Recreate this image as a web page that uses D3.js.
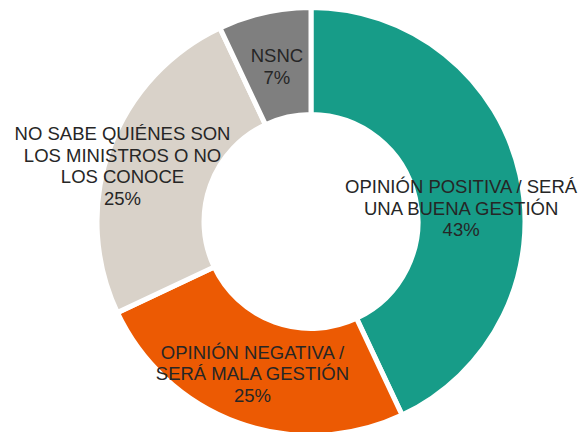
<!DOCTYPE html>
<html>
<head>
<meta charset="utf-8">
<script src="https://cdn.jsdelivr.net/npm/d3@7"></script>
<style>
    html, body { margin: 0; padding: 0; background: #ffffff; }
    svg { display: block; }
</style>
</head>
<body>
<svg id="chart" width="583" height="432"></svg>
<script>
let categories = [
    ['OPINIÓN POSITIVA / SERÁ', 'UNA BUENA GESTIÓN'],
    ['OPINIÓN NEGATIVA /', 'SERÁ MALA GESTIÓN'],
    ['NO SABE QUIÉNES SON', 'LOS MINISTROS O NO', 'LOS CONOCE'],
    ['NSNC']
];
let values = [43, 25, 25, 7];
let colours = ['#179c88', '#ec5a03', '#d9d2c9', '#7f7f7f'];

// label nudges (excel moves a couple of them so they fit)
let labelShift = [[-7, 22], [-4, 1], [-37, -1], [1, 2]];

function renderDonut(opts) {
    let svg = d3.select(opts.svg);

    let pie = d3.pie()
        .sort(null)
        .value(function(d) { return d; });

    let arc = d3.arc()
        .innerRadius(opts.inner)
        .outerRadius(opts.outer);

    let labelArc = d3.arc()
        .innerRadius(opts.labelRadius)
        .outerRadius(opts.labelRadius);

    let arcs = pie(values);

    let g = svg.append('g')
        .attr('transform', 'translate(' + [opts.cx, opts.cy] + ')');

    g.selectAll('path')
        .data(arcs)
        .enter()
        .append('path')
        .attr('d', arc)
        .attr('fill', function(d, i) { return colours[i]; })
        .attr('stroke', '#ffffff')
        .attr('stroke-width', 5)
        .attr('stroke-linejoin', 'miter');

    let labels = g.selectAll('text')
        .data(arcs)
        .enter()
        .append('text')
        .attr('text-anchor', 'middle')
        .attr('font-family', 'Liberation Sans, Arial, sans-serif')
        .attr('font-size', '18.5px')
        .attr('fill', '#262626')
        .attr('transform', function(d, i) {
            let c = labelArc.centroid(d);
            return 'translate(' + [c[0] + labelShift[i][0], c[1] + labelShift[i][1]] + ')';
        });

    labels.each(function(d, i) {
        let lines = categories[i].concat([values[i] + '%']);
        let lh = 21.5;
        let text = d3.select(this);
        lines.forEach(function(line, k) {
            text.append('tspan')
                .attr('x', 0)
                .attr('y', (k - (lines.length - 1) / 2) * lh + 6.5)
                .text(line);
        });
    });
}

renderDonut({
    svg: '#chart',
    cx: 311,
    cy: 221.5,
    outer: 214,
    inner: 107,
    labelRadius: 161
});
</script>
</body>
</html>
